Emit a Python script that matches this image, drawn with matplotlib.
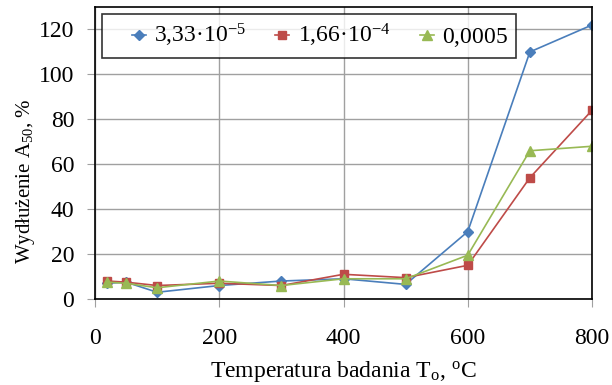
import matplotlib.pyplot as plt
from matplotlib.legend_handler import HandlerLine2D
import numpy as np

# data
temp = [20, 50, 100, 200, 300, 400, 500, 600, 700, 800]
a50_333e5 = [7, 7.5, 3, 6, 8, 9, 6.5, 30, 110, 122]
a50_166e4 = [8, 7.5, 6, 7, 6, 11, 9.5, 15, 54, 84]
a50_0005 = [7.5, 7, 5, 8, 6, 9, 9, 19.5, 66, 68]
labels = ['3,33·10$^{-5}$', '1,66·10$^{-4}$', '0,0005']

plt.rcParams['font.family'] = ['Liberation Serif', 'DejaVu Serif']
plt.rcParams['mathtext.fontset'] = 'custom'
plt.rcParams['mathtext.rm'] = 'Liberation Serif'
plt.rcParams['mathtext.it'] = 'Liberation Serif:italic'

fig = plt.figure(figsize=(6.12, 3.85), dpi=100)
ax = fig.add_axes([95 / 612, 1 - 299 / 385, 497 / 612, 292 / 385])

l1, = ax.plot(temp, a50_333e5, color='#4A7EBB', marker='D', markersize=5, lw=1.2, label=labels[0])
l2, = ax.plot(temp, a50_166e4, color='#BE4B48', marker='s', markersize=6, lw=1.2, label=labels[1])
# small trailing gap so the legend box is as wide as the original
l3, = ax.plot(temp, a50_0005, color='#98B954', marker='^', markersize=7, lw=1.2,
              label=labels[2] + r'$\;\;$')

ax.set_xlim(0, 800)
ax.set_ylim(0, 130)
ax.set_xticks(np.arange(0, 801, 200))
ax.set_yticks(np.arange(0, 121, 20))
ax.grid(color='#a0a0a0', lw=1)
ax.set_axisbelow(True)
for s in ax.spines.values():
    s.set_color('black')
    s.set_linewidth(1.2)
ax.tick_params(labelsize=17, length=6, color='#a0a0a0', direction='out')
ax.tick_params(axis='y', pad=9)
ax.tick_params(axis='x', pad=15)

ax.set_xlabel(r'Temperatura badania T$_\mathrm{o}$, $^\mathrm{o}$C', fontsize=17)
ax.xaxis.set_label_coords(0.5, -0.205)
ax.set_ylabel(r'Wydłużenie A$_{50}$, %', fontsize=15)
ax.yaxis.set_label_coords(-0.117, 0.402)

# short line around the marker, with some room on the left (like Excel)
hmap = {h: HandlerLine2D(xpad=0.9) for h in (l1, l2, l3)}
leg = ax.legend(handles=[l1, l2, l3], handler_map=hmap, loc='upper left',
                bbox_to_anchor=(7 / 497, 1 - 7 / 292), ncol=3, fontsize=17,
                frameon=True, fancybox=False, edgecolor='black', handlelength=1.5,
                handletextpad=0.35, columnspacing=0.35, borderpad=0.35, borderaxespad=0)
leg.get_frame().set_linewidth(1.2)

fig.savefig('out.png', dpi=100)
